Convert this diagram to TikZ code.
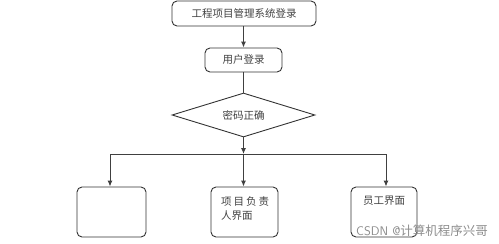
\documentclass[tikz,border=0pt]{standalone}
\usepackage{fontspec}
\newfontfamily\cjk{Noto Sans CJK SC}
\usetikzlibrary{shapes.geometric,arrows.meta}
\tikzset{
  box/.style={draw=black!80, line width=0.9pt, rounded corners=5pt, inner sep=0pt},
  conn/.style={draw=black!75, line width=1pt},
  arr/.style={conn, -{Latex[length=6pt,width=5pt]}},
  lbl/.style={font=\cjk\fontsize{10.5}{13}\selectfont, text=black!75, inner sep=0pt}
}
\begin{document}
\begin{tikzpicture}[x=1pt,y=-1pt]
\useasboundingbox (0,0) rectangle (499,244);
% top boxes
\node[box, minimum width=144pt, minimum height=25pt] (login) at (244,13.5) {};
\node[lbl] at (login.center) {工程项目管理系统登录};
\node[box, minimum width=77pt, minimum height=24pt] (user) at (243.5,60) {};
\node[lbl] at (user.center) {用户登录};
% diamond
\node[diamond, draw=black!80, line width=0.9pt, minimum width=143pt, minimum height=44pt, aspect=3.25, inner sep=0pt] (chk) at (243.5,115) {};
\node[lbl] at (chk.center) {密码正确};
% bottom boxes
\node[box, minimum width=69pt, minimum height=50pt] (b1) at (111.5,212) {};
\node[box, minimum width=67pt, minimum height=50pt] (b2) at (244.5,212) {};
\node[box, minimum width=66pt, minimum height=50pt] (b3) at (384,212) {};
\node[lbl, anchor=west] (t2a) at (221,202) {项\hspace{2pt}目\hspace{2pt}负\hspace{2pt}责};
\node[lbl, anchor=west] (t2b) at (221,216) {人界面};
\node[lbl] (t3) at (384,201) {员工界面};
% connectors
\coordinate (j) at (243.5,154);
\coordinate (jl) at (110,154);
\coordinate (jr) at (386,154);
\draw[arr] (login.south -| 243.5,0) -- (user.north);
\draw[conn] (user.south) -- (chk.north);
\draw[arr] (chk.south) -- (j);
\draw[conn] (jl) -- (jr);
\draw[arr] (jl) -- (jl |- b1.north);
\draw[arr] (j) -- (j |- b2.north);
\draw[arr] (jr) -- (jr |- b3.north);
% watermark
\node[font=\sffamily\fontsize{12.5}{15}\selectfont, text=black!45, inner sep=0pt, anchor=west] (wm) at (356,231) {CSDN @{\cjk 计算机程序兴哥}};
\end{tikzpicture}
\end{document}
